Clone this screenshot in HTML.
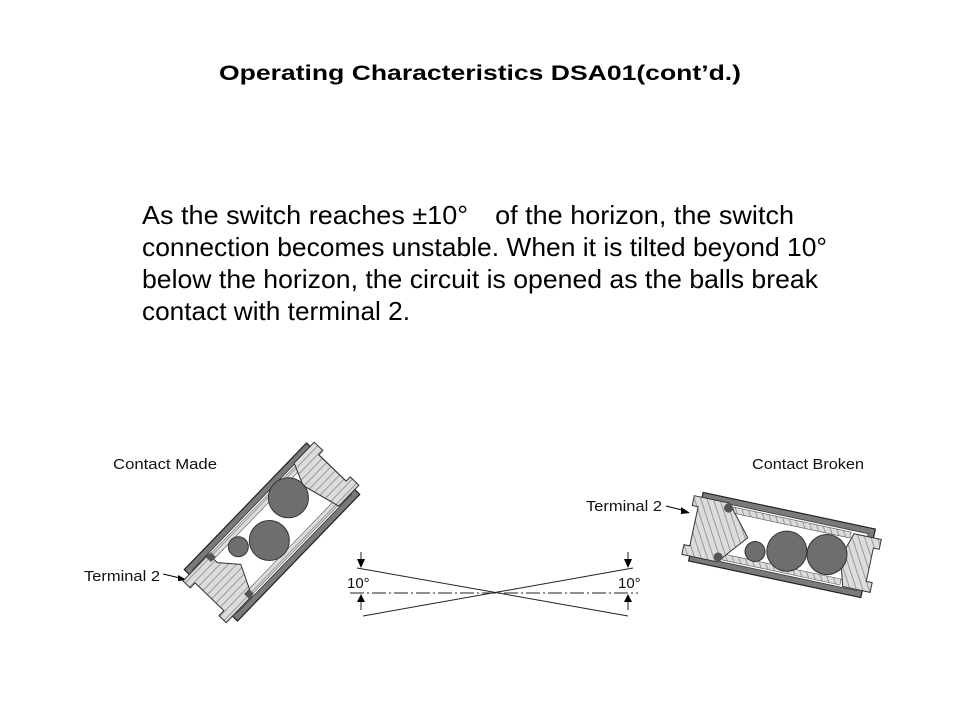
<!DOCTYPE html>
<html><head><meta charset="utf-8"><style>
html,body{margin:0;padding:0;background:#fff;}
svg{display:block;}
</style></head><body>
<svg width="960" height="720" viewBox="0 0 960 720" xmlns="http://www.w3.org/2000/svg" font-family="Liberation Sans, Arial, sans-serif">
<defs>
<pattern id="hatch" patternUnits="userSpaceOnUse" width="6" height="6">
<rect width="6" height="6" fill="#dcdcdc"/>
<line x1="0" y1="3" x2="6" y2="3" stroke="#888" stroke-width="0.8"/>
</pattern>
<pattern id="hatch2" patternUnits="userSpaceOnUse" width="6" height="6" patternTransform="rotate(60)">
<rect width="6" height="6" fill="#dcdcdc"/>
<line x1="0" y1="3" x2="6" y2="3" stroke="#888" stroke-width="0.8"/>
</pattern>
</defs>
<rect width="960" height="720" fill="#fff"/>
<text x="480" y="80" text-anchor="middle" font-size="21" font-weight="bold" fill="#000" textLength="522" lengthAdjust="spacingAndGlyphs">Operating Characteristics DSA01(cont’d.)</text>
<g font-size="26" fill="#000">
<text x="142" y="224" textLength="652" lengthAdjust="spacingAndGlyphs">As the switch reaches ±10°　of the horizon, the switch</text>
<text x="142" y="256" textLength="685" lengthAdjust="spacingAndGlyphs">connection becomes unstable. When it is tilted beyond 10°</text>
<text x="142" y="288" textLength="676" lengthAdjust="spacingAndGlyphs">below the horizon, the circuit is opened as the balls break</text>
<text x="142" y="320" textLength="268" lengthAdjust="spacingAndGlyphs">contact with terminal 2.</text>
</g>

<g font-size="15" fill="#111">
<text x="113" y="469" textLength="104" lengthAdjust="spacingAndGlyphs">Contact Made</text>
<text x="84" y="581" textLength="76" lengthAdjust="spacingAndGlyphs">Terminal 2</text>
<text x="752" y="469" textLength="112" lengthAdjust="spacingAndGlyphs">Contact Broken</text>
<text x="586" y="511" textLength="76" lengthAdjust="spacingAndGlyphs">Terminal 2</text>
</g>
<path d="M163 574 L180 578" stroke="#000" stroke-width="1" fill="none"/>
<path d="M187 580 l-9 -5 l0 6 z" fill="#000"/>
<path d="M666 506 L682 510" stroke="#000" stroke-width="1" fill="none"/>
<path d="M690 513 l-9 -6 l0 7 z" fill="#000"/>

<!-- left switch -->
<g transform="translate(272,532) rotate(-46)">
<rect x="-88" y="-37" width="176" height="74" fill="#7a7a7a" stroke="#222" stroke-width="1.2"/>
<rect x="-82" y="-31" width="164" height="62" fill="#fff" stroke="#333" stroke-width="0.8"/>
<rect x="-60" y="-29" width="125" height="6" fill="url(#hatch)" stroke="#555" stroke-width="0.6"/>
<rect x="-60" y="23" width="125" height="6" fill="url(#hatch)" stroke="#555" stroke-width="0.6"/>
<path d="M-97 -30 L-60 -30 L-60 -18 L-45 0 L-60 30 L-97 30 L-97 20 L-90 20 L-90 -20 L-97 -20 Z" fill="url(#hatch)" stroke="#333" stroke-width="1"/>
<path d="M94 -32 L65 -32 L55 -10 L65 30 L94 30 L94 18 L88 18 L88 -20 L94 -20 Z" fill="url(#hatch)" stroke="#333" stroke-width="1"/>
<rect x="-64" y="-30" width="7" height="7" fill="#555"/>
<rect x="-64" y="23" width="7" height="7" fill="#555"/>
<circle cx="36" cy="-12" r="20" fill="#6e6e6e" stroke="#333"/>
<circle cx="-8" cy="4" r="20" fill="#6e6e6e" stroke="#333"/>
<circle cx="-34" cy="-14" r="10" fill="#6e6e6e" stroke="#333"/>
</g>

<!-- right switch -->
<g transform="translate(782,545) rotate(12)">
<rect x="-88" y="-35" width="176" height="70" fill="#7a7a7a" stroke="#222" stroke-width="1.2"/>
<rect x="-82" y="-29" width="164" height="58" fill="#fff" stroke="#333" stroke-width="0.8"/>
<rect x="-55" y="-27" width="120" height="6" fill="url(#hatch2)" stroke="#555" stroke-width="0.6"/>
<rect x="-55" y="21" width="120" height="6" fill="url(#hatch2)" stroke="#555" stroke-width="0.6"/>
<path d="M-96 -30 L-60 -30 L-35 0 L-60 30 L-96 30 L-96 20 L-90 20 L-90 -20 L-96 -20 Z" fill="url(#hatch2)" stroke="#333" stroke-width="1"/>
<path d="M96 -26 L68 -26 L60 0 L68 28 L96 28 L96 18 L90 18 L90 -16 L96 -16 Z" fill="url(#hatch2)" stroke="#333" stroke-width="1"/>
<circle cx="-60" cy="-25" r="4.5" fill="#555"/>
<circle cx="-60" cy="25" r="4.5" fill="#555"/>
<circle cx="-25" cy="12" r="10" fill="#6e6e6e" stroke="#333"/>
<circle cx="6" cy="5" r="20" fill="#6e6e6e" stroke="#333"/>
<circle cx="46" cy="0" r="20" fill="#6e6e6e" stroke="#333"/>
</g>

<!-- angle diagram -->
<g stroke="#222" stroke-width="1" fill="none">
<line x1="357" y1="568" x2="628" y2="616"/>
<line x1="363" y1="616" x2="633" y2="568"/>
<line x1="350" y1="593" x2="638" y2="593" stroke-dasharray="14,3,2,3"/>
<line x1="361" y1="552" x2="361" y2="566"/>
<line x1="361" y1="596" x2="361" y2="610"/>
<line x1="628" y1="552" x2="628" y2="566"/>
<line x1="628" y1="596" x2="628" y2="610"/>
</g>
<g fill="#000">
<path d="M357 559 L365 559 L361 568 Z"/>
<path d="M357 602 L365 602 L361 594 Z"/>
<path d="M624 559 L632 559 L628 568 Z"/>
<path d="M624 602 L632 602 L628 594 Z"/>
</g>
<g font-size="15" fill="#111">
<text x="347" y="588">10°</text>
<text x="618" y="588">10°</text>
</g>
</svg>
</body></html>
